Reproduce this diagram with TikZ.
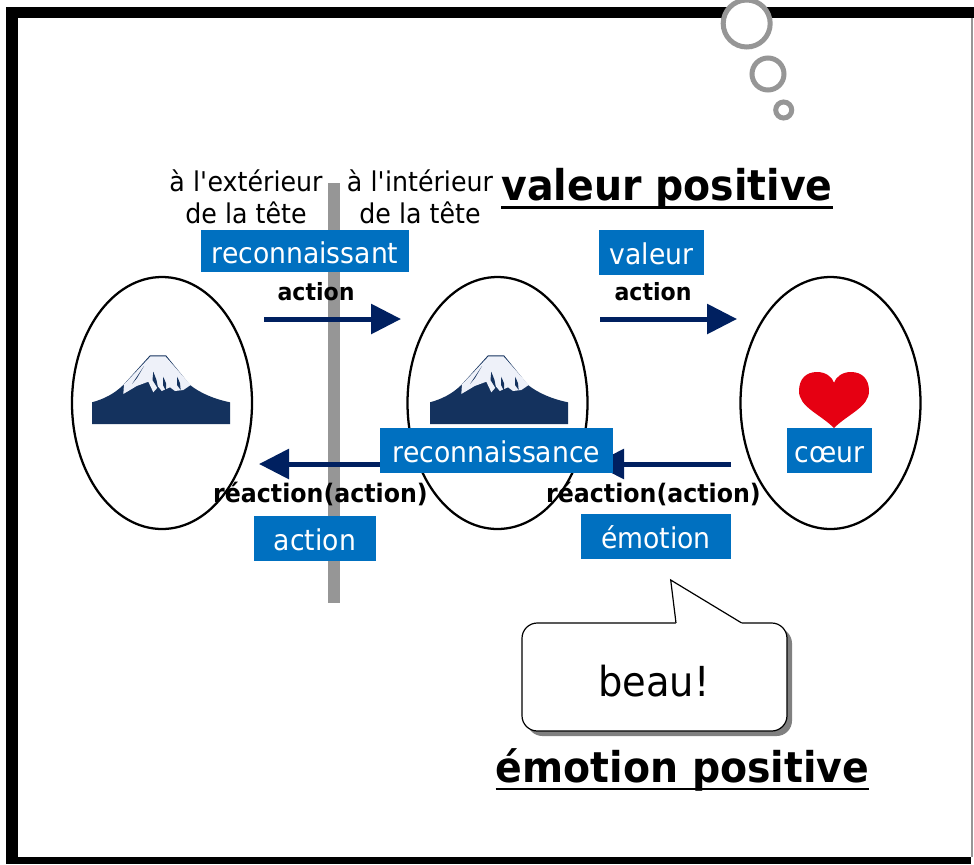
\documentclass[tikz,border=0pt]{standalone}
\usepackage{fontspec}
\usepackage{xcolor}
\setmainfont[FakeStretch=0.93]{DejaVu Sans}
\usetikzlibrary{arrows.meta,shapes.geometric}
\definecolor{boxblue}{RGB}{0,112,192}
\definecolor{arrownavy}{RGB}{0,32,96}
\definecolor{fujinavy}{RGB}{20,50,94}
\definecolor{fujisnow}{RGB}{238,241,249}
\definecolor{heartred}{RGB}{230,0,18}
\definecolor{bargray}{RGB}{150,150,150}
\tikzset{
  bluebox/.style={fill=boxblue,text=white,inner sep=0pt,text height=18pt,text depth=0pt,font=\fontsize{21.5}{24}\selectfont},
  headtext/.style={inner sep=0pt,align=center,font=\fontsize{20.4}{24}\selectfont},
  boldtext/.style={inner sep=0pt,font=\bfseries\fontsize{17.8}{20}\selectfont},
  reacttext/.style={inner sep=0pt,font=\bfseries\fontsize{19.1}{20}\selectfont},
  titletext/.style={inner sep=0pt,text height=22pt,text depth=0pt,font=\bfseries\fontsize{31.8}{36}\selectfont},
  flowarrow/.style={draw=arrownavy,line width=3.75pt,-{Triangle[length=22.5pt,width=22pt]}},
  headball/.style={circle,draw=bargray,fill=white,line width=3.75pt,inner sep=0pt},
  headoval/.style={ellipse,draw,line width=1.7pt,inner sep=0pt,minimum width=135pt,minimum height=189pt},
  fuji/.pic={
    \fill [fujinavy] (0,-21.7) .. controls (12,-25) and (22,-30) .. (31.3,-39) -- (58,-68.7) -- (74,-68.7) -- (98,-39) .. controls (108,-31) and (122,-25) .. (138,-21.7) -- (138,0) -- (0,0) -- cycle ;
    \fill [fujisnow] (32,-39.5) -- (58.6,-67.7) -- (73.4,-67.7) -- (98.7,-39) -- (91.3,-34) -- (83,-33) -- (78,-36.7) -- (69.7,-33) -- (66.3,-37.3) -- (61.3,-31.7) -- (56.3,-42.3) -- (44.7,-38) -- (31.3,-30) -- cycle ;
    \fill [fujinavy] (52,-58) -- (40,-40) -- (45,-46) -- cycle ;
    \fill [fujinavy] (61.3,-52.3) -- (60.5,-44) -- (66.3,-34.7) -- (64.5,-44) -- cycle ;
    \fill [fujinavy] (71.3,-47.3) -- (71,-39) -- (74,-33) -- (74,-40.7) -- cycle ;
    \fill [fujinavy] (85.3,-47.3) -- (85,-39) -- (88.7,-34) -- (88,-40.7) -- cycle ;
  }
}

\begin{document}
\begin{tikzpicture}[x=0.75pt,y=0.75pt,yscale=-1,xscale=1]
\useasboundingbox (0,0) rectangle (974,864);

%Shape: Frame
\fill [black] (6,7) rectangle (974,864) ;
\fill [white] (18,18) rectangle (971,857) ;
\fill [white] (971,18) rectangle (974,864) ;
\draw [color=bargray,line width=1pt] (972,18) -- (972,857) ;

%Shape: Bar
\fill [bargray] (328,183) rectangle (340,603) ;

%Shape: Ellipse
\node [headoval] (outhead) at (162,403) {};
\node [headoval] (inhead) at (497.5,403) {};
\node [headoval] (lasthead) at (830.5,403) {};

%Shape: Thought
\node [headball,minimum size=35.25pt] (ballbig) at (746.7,23.5) {};
\node [headball,minimum size=24pt] (ballmid) at (768,74) {};
\node [headball,minimum size=12pt] (ballsmall) at (783.7,110) {};

%Shape: Mountain
\path (92,424) pic [yscale=-1] {fuji} ;
\path (430,424) pic [yscale=-1] {fuji} ;

%Shape: Heart
\fill [heartred] (834,428) .. controls (820,414) and (799,407) .. (799,391) .. controls (799,379) and (806,372) .. (817,372) .. controls (826,372) and (832,377) .. (834,382.7) .. controls (836,377) and (842,372) .. (851,372) .. controls (862,372) and (869,379) .. (869,391) .. controls (869,407) and (848,414) .. (834,428) -- cycle ;

%Straight Lines
\coordinate (actstart) at (264,319) ;
\coordinate (actend) at (401,319) ;
\coordinate (valstart) at (600,319) ;
\coordinate (valend) at (737,319) ;
\coordinate (emostart) at (731,464) ;
\coordinate (emoend) at (594,464) ;
\coordinate (reastart) at (396,464) ;
\coordinate (reaend) at (259,464) ;
\draw [flowarrow] (actstart) -- (actend) ;
\draw [flowarrow] (valstart) -- (valend) ;
\draw [flowarrow] (emostart) -- (emoend) ;
\draw [flowarrow] (reastart) -- (reaend) ;

%Shape: Callout
\fill [color=black!50,rounded corners=11.5pt] (527,628) rectangle (792,736) ;
\draw [fill=white,line width=0.9pt,rounded corners=11.5pt] (676,623) -- (522,623) -- (522,731) -- (787,731) -- (787,623) -- (742,623) ;
\fill [white] (676,624) -- (670.7,580) -- (741.7,624) -- cycle ;
\draw [line width=0.9pt] (676,623) -- (670.7,580) -- (741.7,623) ;

% Text Node
\node [bluebox,minimum width=156pt,minimum height=31.5pt] (reconnaissant) at (305,251) {reconnaissant};
\node [bluebox,minimum width=78.75pt,minimum height=33.75pt] (valeur) at (651.5,252.5) {valeur};
\node [bluebox,minimum width=174.75pt,minimum height=33.75pt] (reconnaissance) at (496.5,450.5) {reconnaissance};
\node [bluebox,minimum width=63.75pt,minimum height=33.75pt] (coeur) at (829.5,450.5) {cœur};
\node [bluebox,minimum width=112.5pt,minimum height=33.75pt] (emotion) at (656,536.5) {émotion};
\node [bluebox,minimum width=91.5pt,minimum height=33.75pt] (actionbox) at (315,538.5) {action};
\node [headtext] (exterior) at (246,197) {à l\textquotesingle extérieur\\de la tête};
\node [headtext] (interior) at (420,197) {à l\textquotesingle intérieur\\de la tête};
\node [boldtext] (actionone) at (316,292) {action};
\node [boldtext] (actiontwo) at (653,292) {action};
\node [reacttext] (reactionone) at (320.5,494) {réaction(action)};
\node [reacttext] (reactiontwo) at (653.5,494) {réaction(action)};
\node [titletext] (valeurpos) at (667,186.3) {valeur positive};
\node [titletext] (emotionpos) at (682.5,768) {émotion positive};
\node [inner sep=0pt,font=\fontsize{31}{36}\selectfont] (beau) at (654,681) {beau!};

%Straight Lines
\draw [line width=2pt] ([yshift=4.5pt]valeurpos.south west) -- ([yshift=4.5pt]valeurpos.south east) ;
\draw [line width=2pt] ([yshift=4.5pt]emotionpos.south west) -- ([yshift=4.5pt]emotionpos.south east) ;

\end{tikzpicture}
\end{document}
